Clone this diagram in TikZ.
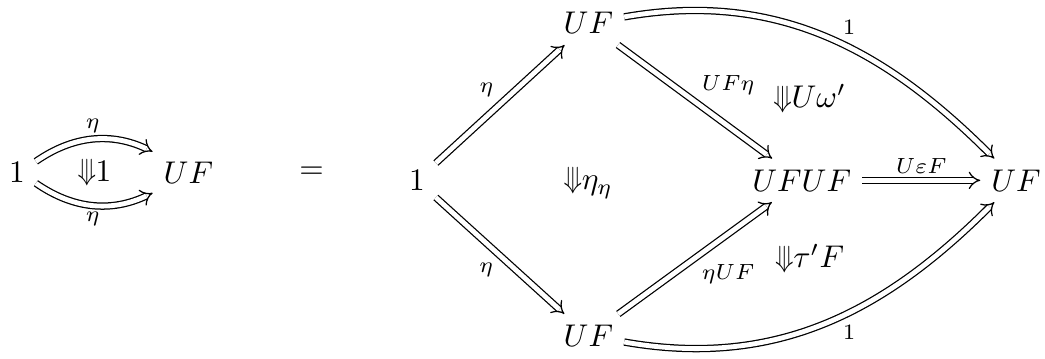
\documentclass[tikz,border=0pt]{standalone}
\usepackage{amsmath,amssymb}
\usepackage{graphicx}
\usetikzlibrary{arrows.meta,positioning}
\tikzset{
  every picture/.append style={line cap=round,line join=round},
  cell arrow/.style={double,double equal sign distance,line cap=butt,-{Implies}},
  cell label/.style={font=\scriptsize,inner sep=2pt},
  cell twocell/.style={inner sep=1pt}
}
\providecommand{\Downtrip}{\mathord{\vcenter{\hbox{\resizebox{2mm}{2.6mm}{\rotatebox[origin=c]{-90}{$\Rrightarrow$}}}}}}

\begin{document}
\begin{tikzpicture}
\useasboundingbox (0,0) rectangle (11.704,-4.01);
% left side
\node (one) at (0.19,-1.93) {$1$};
\node (uf) at (2.11,-1.93) {$UF$};
\draw[cell arrow] (one) to[bend left=30] node[cell label,above] {$\eta$} (uf);
\draw[cell arrow] (one) to[bend right=30] node[cell label,below] {$\eta$} (uf);
\node[cell twocell] (idcell) at (1.06,-1.94) {$\Downtrip 1$};
\node (eq) at (3.49,-1.93) {$=$};
% right side
\node (oneR) at (4.67,-2.02) {$1$};
\node (ufT) at (6.59,-0.26) {$UF$};
\node (ufB) at (6.59,-3.76) {$UF$};
\node (ufuf) at (8.98,-2.02) {$UFUF$};
\node (ufR) at (11.38,-2.02) {$UF$};
\draw[cell arrow] (oneR) -- node[cell label,above left] {$\eta$} (ufT);
\draw[cell arrow] (oneR) -- node[cell label,below left] {$\eta$} (ufB);
\draw[cell arrow] (ufT) -- node[cell label,above right] {$UF\eta$} (ufuf);
\draw[cell arrow] (ufB) -- node[cell label,below right] {$\eta UF$} (ufuf);
\draw[cell arrow] (ufuf) -- node[cell label,above] {$U\varepsilon F$} (ufR);
\draw[cell arrow] (ufT) to[out=10,in=135] node[cell label,above right,pos=0.53] {$1$} (ufR);
\draw[cell arrow] (ufB) to[out=-10,in=-135] node[cell label,below right,pos=0.53] {$1$} (ufR);
\node[cell twocell] (etacell) at (6.59,-2.04) {$\Downtrip\eta_\eta$};
\node[cell twocell] (omegacell) at (9.07,-1.12) {$\Downtrip U\omega'$};
\node[cell twocell] (taucell) at (9.07,-2.91) {$\Downtrip\tau'F$};
\end{tikzpicture}
\end{document}
